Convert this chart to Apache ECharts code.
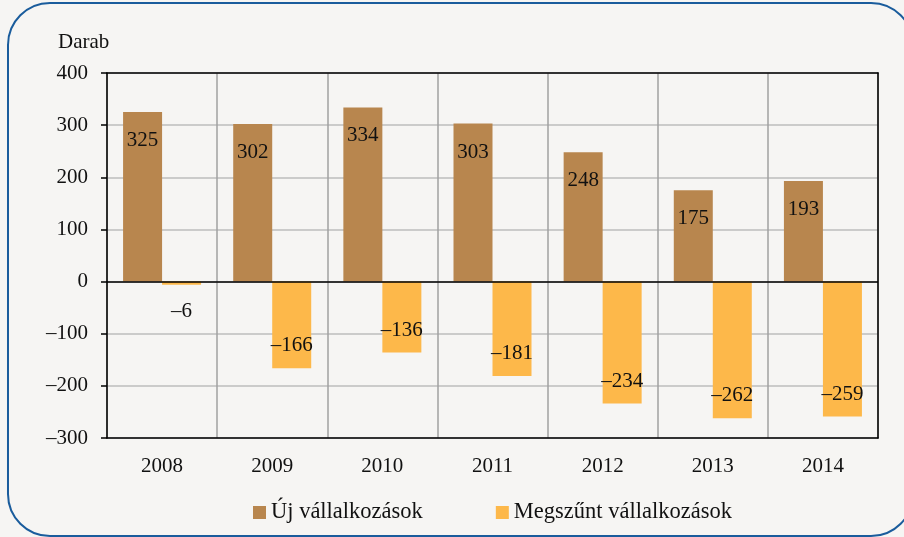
<!DOCTYPE html>
<html>
<head>
<meta charset="utf-8">
<script src="https://cdn.jsdelivr.net/npm/echarts@6/dist/echarts.min.js"></script>
<style>
  html, body { margin: 0; padding: 0; background: #f6f5f3; }
  #chart { width: 904px; height: 537px; }
</style>
</head>
<body>
<div id="chart"></div>
<script>
// adatok
const years = ['2008', '2009', '2010', '2011', '2012', '2013', '2014'];
const ujVallalkozasok = [325, 302, 334, 303, 248, 175, 193];
const megszuntVallalkozasok = [-6, -166, -136, -181, -234, -262, -259];
const yTicks = { min: -300, max: 400, interval: 100 };

const FONT = '"Liberation Serif", "DejaVu Serif", serif';
const FS = 21;
const dash = v => String(v).replace('-', '\u2013');

const labelBase = {
  show: true,
  fontFamily: FONT,
  fontSize: FS,
  color: '#111',
  formatter: p => dash(p.value)
};

const blackLine = { color: '#000', width: 1.5 };

const chart = echarts.init(document.getElementById('chart'));

chart.setOption({
  backgroundColor: '#f6f5f3',
  animation: false,
  title: {
    text: 'Darab',
    left: 53,
    top: 27,
    textStyle: { fontFamily: FONT, fontSize: FS, fontWeight: 'normal', color: '#111' }
  },
  legend: {
    left: 248,
    top: 496,
    itemWidth: 13,
    itemHeight: 13,
    itemGap: 73,
    icon: 'rect',
    textStyle: { fontFamily: FONT, fontSize: 22.5, color: '#111' },
    data: ['Új vállalkozások', 'Megszűnt vállalkozások']
  },
  grid: {
    left: 107, right: 26, top: 73, bottom: 99,
    outerBoundsMode: 'none',
    containLabel: false
  },
  xAxis: [
    {
      type: 'category',
      data: years,
      position: 'bottom',
      axisLine: { onZero: false, lineStyle: blackLine },
      axisTick: { show: false },
      axisLabel: { fontFamily: FONT, fontSize: FS, color: '#111', margin: 18 },
      splitLine: { show: true, lineStyle: { color: '#a0a0a0', width: 1.5 } },
      z: 0
    },
    {
      // felső keret
      type: 'category',
      data: years,
      position: 'top',
      axisLine: { onZero: false, lineStyle: blackLine },
      axisTick: { show: false },
      axisLabel: { show: false },
      z: 3
    }
  ],
  yAxis: [
    {
      type: 'value',
      min: yTicks.min,
      max: yTicks.max,
      interval: yTicks.interval,
      axisLine: { show: true, lineStyle: blackLine },
      axisTick: { show: true, inside: false, length: 6, lineStyle: blackLine },
      axisLabel: { fontFamily: FONT, fontSize: FS, color: '#111', margin: 19, formatter: v => dash(v) },
      splitLine: { show: true, lineStyle: { color: '#bdbdbd', width: 1.5 } },
      z: 0
    },
    {
      // jobb oldali keret
      type: 'value',
      min: yTicks.min,
      max: yTicks.max,
      interval: yTicks.interval,
      position: 'right',
      axisLine: { show: true, lineStyle: blackLine },
      axisTick: { show: false },
      axisLabel: { show: false },
      splitLine: { show: false },
      z: 3
    }
  ],
  series: [
    {
      name: 'Új vállalkozások',
      type: 'bar',
      data: ujVallalkozasok,
      barWidth: 39,
      barGap: '0%',
      itemStyle: { color: '#b8864e' },
      label: Object.assign({}, labelBase, { position: 'insideTop', distance: 18 }),
      markLine: {
        silent: true,
        symbol: 'none',
        label: { show: false },
        lineStyle: { color: '#000', width: 1.5, type: 'solid' },
        data: [{ yAxis: 0 }],
        z: 4
      }
    },
    {
      name: 'Megszűnt vállalkozások',
      type: 'bar',
      data: megszuntVallalkozasok.map(v => v > -30
        ? { value: v, label: { position: 'bottom', distance: 16 } }
        : v),
      barWidth: 39,
      barGap: '0%',
      itemStyle: { color: '#fdb84a' },
      label: Object.assign({}, labelBase, { position: 'insideBottom', distance: 12 })
    }
  ],
  graphic: [{
    type: 'rect',
    shape: { x: 8, y: 3, width: 905, height: 533, r: 42 },
    style: { fill: 'none', stroke: '#1a5c9c', lineWidth: 2 },
    silent: true,
    z: 100
  }]
});
</script>
</body>
</html>
